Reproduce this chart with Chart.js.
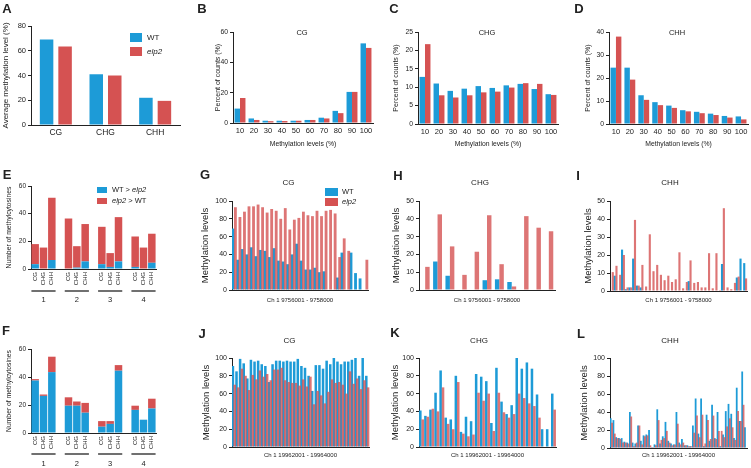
<!DOCTYPE html>
<html>
<head>
<meta charset="utf-8">
<script src="https://cdn.jsdelivr.net/npm/chart.js@4.4.1/dist/chart.umd.min.js"></script>
<style>
body { margin: 0; background: #fff; width: 751px; height: 468px; position: relative; overflow: hidden;
       font-family: 'Liberation Sans', Arial, sans-serif; color: #222; }
canvas { position: absolute; }
.t { position: absolute; white-space: nowrap; line-height: 1; }
.sw { position: absolute; }
</style>
</head>
<body>
<script>
const FONT = "'Liberation Sans', Arial, sans-serif";
const INK = '#222';
const BLUE = '#1d9bd7';
const RED = '#d55252';
const RED_T = 'rgba(213,82,82,0.8)';

// --- data ---
const SERIES = ['WT', 'elp2'];
const CONTEXTS = ['CG', 'CHG', 'CHH'];
const LEVELS = ['10', '20', '30', '40', '50', '60', '70', '80', '90', '100'];
const GROUPS = ['1', '2', '3', '4'];

// A: average methylation level (%)
const A_WT = [69, 41, 22];
const A_ELP2 = [63.5, 40, 19.5];

// B-D: percent of counts per methylation level bin
const B_WT = [9.5, 3, 1.5, 1.5, 1.5, 2, 3.5, 8, 20.5, 52.5];
const B_ELP2 = [16.5, 2, 1.2, 1.3, 1.5, 2, 3, 6.5, 20.5, 49.5];
const C_WT = [12.8, 11, 9, 9.6, 10.3, 9.8, 10.5, 10.9, 9.5, 8.1];
const C_ELP2 = [21.7, 7.8, 7.2, 7.8, 8.6, 8.8, 9.9, 11.1, 10.9, 7.9];
const D_WT = [24.5, 24.5, 12.5, 9.5, 8, 6, 5.3, 4.5, 3.5, 3.3];
const D_ELP2 = [38, 19.3, 10.5, 8.2, 7, 5.5, 4.7, 3.9, 2.8, 2];

// E/F: number of methylcytosines (groups 1-4 x CG/CHG/CHH), stacked
const E_WT_GT = [3.5, 0, 6.5, 0, 1, 5.5, 3.5, 1.5, 5.5, 1.5, 0, 4.5];
const E_ELP2_GT = [14.5, 15.5, 45, 36.5, 15.5, 27, 27, 10, 32, 22, 15.5, 21];
const F_WT_GT = [37.5, 26.5, 43.5, 19.5, 19.5, 14.5, 4.5, 6.5, 44.5, 16.5, 9.5, 17.5];
const F_ELP2_GT = [1, 1, 11, 6, 3, 7, 4, 2, 4, 3, 0, 7];

// G-I: Ch 1 9756001 - 9758000
const G_WT = [69, 34, 46, 40, 48, 38, 45, 44, 37, 47, 33, 32, 29, 40, 52, 33, 23, 23, 25, 20, 21, 0, 0, 14, 42, 0, 42, 19, 13, 0];
const G_ELP2 = [93, 82, 88, 94, 94, 96, 93, 87, 91, 89, 80, 92, 68, 79, 81, 88, 84, 83, 89, 83, 89, 90, 86, 37, 58, 44, 0, 0, 0, 34];
const H_WT = [0, 16, 8, 0, 0, 5.5, 6, 4.5, 0, 0, 0];
const H_ELP2 = [13, 42.5, 24.5, 8.5, 21.5, 42, 14.5, 2, 41.5, 35, 33];
const I_WT = [0, 8.5, 0, 23, 1, 2, 18, 3, 2, 0, 0, 0, 0, 0, 0, 0, 0, 0, 0, 0, 0, 5.5, 0, 0, 0, 0, 0, 0, 0, 0, 15, 0, 0, 0, 7.5, 18, 15.5];
const I_ELP2 = [10.5, 14, 9, 20, 2, 2, 39.5, 3, 14.5, 2.5, 31.5, 11, 14.5, 9, 6, 8.5, 5, 6.5, 21.5, 1.5, 5, 17, 4.5, 5, 2, 2, 21, 1.5, 21, 0.5, 46, 2, 1, 4.5, 8, 0, 7];

// J-L: Ch 1 19962001 - 19964000
const J_WT = [91, 85, 99, 94, 77, 98, 96, 97, 93, 91, 73, 93, 97, 97, 96, 97, 96, 96, 99, 91, 89, 80, 63, 92, 92, 88, 97, 93, 100, 96, 93, 96, 96, 98, 100, 80, 100, 80];
const J_ELP2 = [70, 67, 88, 80, 64, 81, 76, 86, 79, 82, 75, 87, 87, 89, 75, 73, 72, 72, 69, 76, 68, 79, 48, 63, 58, 49, 62, 76, 72, 73, 70, 60, 85, 71, 77, 65, 75, 67];
const K_WT = [41, 35, 42, 61, 86, 33, 31, 80, 17, 34, 29, 82, 79, 74, 27, 89, 51, 37, 47, 100, 88, 95, 88, 59, 20, 20, 60];
const K_ELP2 = [31, 34, 43, 40, 67, 26, 20, 73, 15, 12, 14, 61, 52, 60, 18, 61, 39, 33, 37, 60, 55, 49, 46, 33, 0, 0, 42];
const L_WT = [33, 31, 12, 11, 11, 7, 6, 40, 6, 5, 25, 8, 14, 15, 20, 1, 4, 43, 5, 13, 29, 8, 5, 4, 40, 6, 10, 3, 3, 2, 25, 55, 16, 55, 2, 37, 8, 48, 11, 40, 2, 15, 41, 49, 38, 11, 67, 30, 85, 23];
const L_ELP2 = [28, 16, 11, 10, 6, 6, 5, 35, 2, 6, 25, 4, 13, 14, 3, 1, 3, 31, 9, 11, 19, 6, 3, 4, 27, 4, 6, 3, 2, 2, 17, 36, 12, 37, 5, 31, 10, 36, 10, 19, 19, 12, 24, 33, 23, 9, 41, 30, 48, 0];

Chart.defaults.font.family = FONT;
Chart.defaults.color = INK;

// --- helpers ---
function withGaps(arr) {
    const out = [];
    arr.forEach((v, i) => { if (i && i % 3 === 0) out.push(null); out.push(v); });
    return out;
}
const E_LABELS = withGaps(GROUPS.flatMap(() => CONTEXTS)).map(l => l === null ? '' : l);

function txt(html, x, y, size, opts = {}) {
    const d = document.createElement('div');
    d.className = 't';
    d.innerHTML = html;
    d.style.left = x + 'px';
    d.style.top = y + 'px';
    d.style.fontSize = size + 'px';
    if (opts.bold) d.style.fontWeight = 'bold';
    d.style.transform = opts.left ? 'translate(0,-50%)' : 'translate(-50%,-50%)';
    document.body.appendChild(d);
}
function swatch(x, y, w, h, color) {
    const d = document.createElement('div');
    d.className = 'sw';
    Object.assign(d.style, { left: x + 'px', top: y + 'px', width: w + 'px', height: h + 'px', background: color });
    document.body.appendChild(d);
}

// draw the elp2 dataset last so it sits over WT where bars touch
const redOnTop = {
    id: 'redOnTop',
    beforeDatasetDraw(chart, args) { if (args.index === 1) return false; },
    afterDatasetsDraw(chart) { chart.getDatasetMeta(1).controller.draw(); }
};

function groupLines(lineY, numY) {
    return {
        id: 'groupLines',
        afterDraw(chart) {
            const { ctx, scales: { x } } = chart;
            const half = (x.getPixelForValue(1) - x.getPixelForValue(0)) / 2;
            ctx.save();
            ctx.strokeStyle = INK;
            ctx.fillStyle = INK;
            ctx.lineWidth = 1.3;
            ctx.font = '7.5px ' + FONT;
            ctx.textAlign = 'center';
            ctx.textBaseline = 'middle';
            GROUPS.forEach((g, i) => {
                const a = x.getPixelForValue(i * 4) - half * 0.9;
                const b = x.getPixelForValue(i * 4 + 2) + half * 0.9;
                ctx.beginPath();
                ctx.moveTo(a, lineY);
                ctx.lineTo(b, lineY);
                ctx.stroke();
                ctx.fillText(g, (a + b) / 2, numY);
            });
            ctx.restore();
        }
    };
}

function barPanel(p) {
    const [bl, bt, bw, bh] = p.box;
    const [x0, y0, x1, y1] = p.plot;
    const c = document.createElement('canvas');
    c.width = bw; c.height = bh;
    c.style.left = bl + 'px'; c.style.top = bt + 'px';
    document.body.appendChild(c);
    const yLh = p.yTitleSize * 1.2;
    const xLh = (p.xTitleSize || 6) * 1.2;
    return new Chart(c, {
        type: 'bar',
        data: { labels: p.labels, datasets: p.datasets },
        options: {
            responsive: false,
            animation: false,
            devicePixelRatio: 1,
            layout: { padding: { left: 0, top: y0 - bt, right: bl + bw - x1, bottom: 0 } },
            plugins: { legend: { display: false }, tooltip: { enabled: false } },
            scales: {
                x: {
                    stacked: !!p.stacked,
                    ticks: {
                        display: !!p.xTicks, autoSkip: false,
                        maxRotation: p.rot || 0, minRotation: p.rot || 0,
                        padding: p.xPad || 3, color: INK,
                        font: { size: p.xTickSize || 8 }
                    },
                    grid: { display: false, drawTicks: false },
                    border: { display: true, color: INK, width: 1 },
                    title: {
                        display: !!p.xTitle, text: p.xTitle, color: INK,
                        font: { size: p.xTitleSize || 6 },
                        padding: { top: 0, bottom: p.xTitle ? bt + bh - p.xTitleY - xLh / 2 : 0 }
                    },
                    afterFit: s => { s.height = bt + bh - y1; }
                },
                y: {
                    stacked: !!p.stacked,
                    min: 0, max: p.yMax,
                    ticks: { stepSize: p.yStep, padding: 2, color: INK, font: { size: p.yTickSize } },
                    grid: { display: true, drawOnChartArea: false, drawTicks: true, tickLength: 3, color: INK },
                    border: { display: true, color: INK, width: 1 },
                    title: {
                        display: true, text: p.yTitle, color: INK,
                        font: { size: p.yTitleSize },
                        padding: { top: Math.max(0, p.yTitleX - bl - yLh / 2), bottom: 0 }
                    },
                    afterFit: s => { s.width = x0 - bl; }
                }
            }
        },
        plugins: p.plugins || []
    });
}

function pair(wt, elp2, cat, bar, overlap) {
    return [
        { label: SERIES[0], data: wt, backgroundColor: BLUE, categoryPercentage: cat, barPercentage: bar },
        { label: SERIES[1], data: elp2, backgroundColor: overlap ? RED_T : RED, categoryPercentage: cat, barPercentage: bar }
    ];
}
const idx = arr => arr.map((_, i) => String(i + 1));

// --- row 1 ---
barPanel({
    box: [0, 14, 190, 136], plot: [31, 26, 180, 125],
    labels: CONTEXTS, datasets: pair(A_WT, A_ELP2, 0.745, 0.73),
    yMax: 80, yStep: 20, yTickSize: 7.5, yTitle: 'Average methylation level (%)', yTitleSize: 8, yTitleX: 5.5,
    xTicks: true, xTickSize: 8.5, xPad: 3
});
const histPanels = [
    { box: [190, 14, 186, 140], plot: [233, 32, 373, 123], wt: B_WT, el: B_ELP2, max: 60, step: 20, tx: 218 },
    { box: [378, 14, 185, 140], plot: [418, 32, 558, 124], wt: C_WT, el: C_ELP2, max: 25, step: 5, tx: 396.5 },
    { box: [565, 14, 186, 140], plot: [609, 32, 748, 124], wt: D_WT, el: D_ELP2, max: 40, step: 10, tx: 588.5 }
];
histPanels.forEach(h => barPanel({
    box: h.box, plot: h.plot, labels: LEVELS, datasets: pair(h.wt, h.el, 0.78, 1),
    yMax: h.max, yStep: h.step, yTickSize: 6.8, yTitle: 'Percent of counts (%)', yTitleSize: 7, yTitleX: h.tx,
    xTicks: true, xTickSize: 7.5, xPad: 3,
    xTitle: 'Methylation levels (%)', xTitleSize: 6.8, xTitleY: 144.5
}));

// --- E / F ---
function stackPanel(box, plot, wt, el, titleX, lineY, numY) {
    return barPanel({
        box, plot, labels: E_LABELS, stacked: true,
        datasets: [
            { label: 'WT > elp2', data: withGaps(wt), backgroundColor: BLUE, categoryPercentage: 1, barPercentage: 0.9 },
            { label: 'elp2 > WT', data: withGaps(el), backgroundColor: RED, categoryPercentage: 1, barPercentage: 0.9 }
        ],
        yMax: 60, yStep: 20, yTickSize: 6.5, yTitle: 'Number of methylcytosines', yTitleSize: 6.8, yTitleX: titleX,
        xTicks: true, xTickSize: 6, rot: 90, xPad: 3,
        plugins: [groupLines(lineY, numY)]
    });
}
stackPanel([0, 165, 175, 143], [31, 186, 156, 269], E_WT_GT, E_ELP2_GT, 9, 291 - 165, 300 - 165);
stackPanel([0, 318, 175, 150], [31, 349, 156, 433], F_WT_GT, F_ELP2_GT, 9.5, 454 - 318, 464 - 318);

// --- G-L ---
const regionPanels = [
    { box: [192, 165, 185, 142], plot: [232, 201, 368, 290], wt: G_WT, el: G_ELP2, max: 100, step: 20, tx: 205.5, region: 'Ch 1 9756001 - 9758000', xy: 300, cat: 1, bar: 1.25 },
    { box: [380, 165, 180, 142], plot: [419, 201, 555, 290], wt: H_WT, el: H_ELP2, max: 50, step: 10, tx: 396.5, region: 'Ch 1 9756001 - 9758000', xy: 300, cat: 0.72, bar: 1 },
    { box: [565, 165, 186, 142], plot: [610, 201, 747, 291], wt: I_WT, el: I_ELP2, max: 50, step: 10, tx: 588, region: 'Ch 1 9756001 - 9758000', xy: 300, cat: 1, bar: 1.15 },
    { box: [192, 318, 185, 148], plot: [232, 358, 369, 447], wt: J_WT, el: J_ELP2, max: 100, step: 20, tx: 206.5, region: 'Ch 1 19962001 - 19964000', xy: 455.5, cat: 1, bar: 1.4 },
    { box: [380, 318, 180, 148], plot: [419, 358, 556, 447], wt: K_WT, el: K_ELP2, max: 100, step: 20, tx: 395.5, region: 'Ch 1 19962001 - 19964000', xy: 455.5, cat: 0.95, bar: 1.05 },
    { box: [565, 318, 186, 148], plot: [610, 358, 747, 448], wt: L_WT, el: L_ELP2, max: 100, step: 20, tx: 584.5, region: 'Ch 1 19962001 - 19964000', xy: 455.5, cat: 1, bar: 1.3 }
];
regionPanels.forEach(r => barPanel({
    box: r.box, plot: r.plot, labels: idx(r.wt), datasets: pair(r.wt, r.el, r.cat, r.bar, true),
    yMax: r.max, yStep: r.step, yTickSize: 7, yTitle: 'Methylation levels', yTitleSize: 9.5, yTitleX: r.tx,
    xTicks: false, xTitle: r.region, xTitleSize: 6, xTitleY: r.xy,
    plugins: [redOnTop]
}));

// --- panel letters and titles ---
[['A', 7, 8], ['B', 202, 8], ['C', 394, 8], ['D', 579, 8],
 ['E', 7, 174], ['G', 205, 174], ['H', 398, 175], ['I', 578, 175],
 ['F', 6, 330], ['J', 202, 333], ['K', 395, 332], ['L', 581, 333]]
    .forEach(([l, x, y]) => txt(l, x, y, 13, { bold: true }));

txt('CG', 302, 33, 7.5); txt('CHG', 487, 33, 7.5); txt('CHH', 677, 33, 7.5);
txt('CG', 288.5, 183, 8); txt('CHG', 480, 183, 8); txt('CHH', 670, 183, 8);
txt('CG', 289.5, 341, 8); txt('CHG', 479, 341, 8); txt('CHH', 670, 341, 8);

// --- legends ---
swatch(130, 33, 12, 9, BLUE); txt(SERIES[0], 147, 37.5, 8, { left: true });
swatch(130, 47, 12, 9, RED); txt('<i>' + SERIES[1] + '</i>', 147, 52, 8, { left: true });

swatch(97, 187, 10, 6, BLUE); txt('WT &gt; <i>elp2</i>', 112, 190, 7.5, { left: true });
swatch(97, 198, 10, 6, RED); txt('<i>elp2</i> &gt; WT', 112, 201, 7.5, { left: true });

swatch(325, 188, 13, 8, BLUE); txt(SERIES[0], 342, 192, 7.5, { left: true });
swatch(325, 198, 13, 8, RED); txt('<i>' + SERIES[1] + '</i>', 342, 202, 7.5, { left: true });
</script>
</body>
</html>
